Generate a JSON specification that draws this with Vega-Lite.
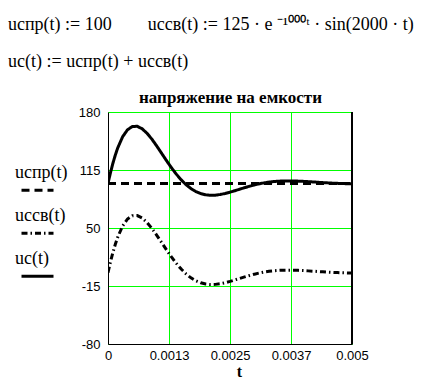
{
  "$schema": "https://vega.github.io/schema/vega-lite/v6.json",
  "width": 244,
  "height": 232,
  "autosize": "none",
  "padding": {"left": 108, "top": 112, "right": 88, "bottom": 42},
  "background": "white",
  "title": {
    "text": ["uспр(t) := 100\u00a0\u00a0\u00a0\u00a0\u00a0\u00a0\u00a0\u00a0uссв(t) := 125 · e\u00a0⁻¹⁰⁰⁰ᵗ · sin(2000 · t)", "uc(t) := uспр(t) + uссв(t)"],
    "anchor": "start",
    "frame": "group",
    "font": "Liberation Serif",
    "fontSize": 18,
    "fontWeight": "normal",
    "color": "black",
    "lineHeight": 37,
    "baseline": "alphabetic",
    "dx": -100,
    "offset": 3
  },
  "config": {
    "view": {"stroke": null},
    "axis": {
      "ticks": false,
      "grid": true,
      "gridColor": "#00ff00",
      "gridOpacity": 1,
      "gridWidth": 1,
      "domainColor": "black",
      "domainWidth": 1,
      "labelFont": "Liberation Sans",
      "labelFontSize": 13,
      "labelColor": "black"
    },
    "legend": {
      "orient": "none",
      "legendX": -88,
      "legendY": 48,
      "padding": 0,
      "symbolType": "M-1,0.8L1,0.8",
      "symbolSize": 1024,
      "symbolStrokeWidth": 3,
      "symbolStrokeColor": "black",
      "symbolFillColor": "transparent",
      "labelFont": "Liberation Serif",
      "labelFontSize": 18,
      "labelColor": "black",
      "labelOffset": -40,
      "labelBaseline": "alphabetic",
      "rowPadding": 6
    }
  },
  "data": {
    "values": [
      {"t": 0, "s": "spr", "v": 100},
      {"t": 0.005, "s": "spr", "v": 100},
      {"t": 0, "s": "ssv", "v": 0},
      {"t": 0.00005, "s": "ssv", "v": 11.87},
      {"t": 0.0001, "s": "ssv", "v": 22.47},
      {"t": 0.00015, "s": "ssv", "v": 31.79},
      {"t": 0.0002, "s": "ssv", "v": 39.85},
      {"t": 0.0003, "s": "ssv", "v": 52.29},
      {"t": 0.0004, "s": "ssv", "v": 60.11},
      {"t": 0.0005, "s": "ssv", "v": 63.8},
      {"t": 0.0006, "s": "ssv", "v": 63.94},
      {"t": 0.0007, "s": "ssv", "v": 61.17},
      {"t": 0.0008, "s": "ssv", "v": 56.14},
      {"t": 0.0009, "s": "ssv", "v": 49.49},
      {"t": 0.001, "s": "ssv", "v": 41.81},
      {"t": 0.0011, "s": "ssv", "v": 33.64},
      {"t": 0.0012, "s": "ssv", "v": 25.43},
      {"t": 0.0013, "s": "ssv", "v": 17.56},
      {"t": 0.0014, "s": "ssv", "v": 10.33},
      {"t": 0.0015, "s": "ssv", "v": 3.94},
      {"t": 0.0016, "s": "ssv", "v": -1.47},
      {"t": 0.0017, "s": "ssv", "v": -5.84},
      {"t": 0.0018, "s": "ssv", "v": -9.14},
      {"t": 0.0019, "s": "ssv", "v": -11.44},
      {"t": 0.002, "s": "ssv", "v": -12.8},
      {"t": 0.0021, "s": "ssv", "v": -13.34},
      {"t": 0.0022, "s": "ssv", "v": -13.18},
      {"t": 0.0023, "s": "ssv", "v": -12.45},
      {"t": 0.0024, "s": "ssv", "v": -11.3},
      {"t": 0.0025, "s": "ssv", "v": -9.84},
      {"t": 0.0026, "s": "ssv", "v": -8.2},
      {"t": 0.0027, "s": "ssv", "v": -6.49},
      {"t": 0.0028, "s": "ssv", "v": -4.8},
      {"t": 0.0029, "s": "ssv", "v": -3.2},
      {"t": 0.003, "s": "ssv", "v": -1.74},
      {"t": 0.0031, "s": "ssv", "v": -0.47},
      {"t": 0.0032, "s": "ssv", "v": 0.59},
      {"t": 0.0033, "s": "ssv", "v": 1.44},
      {"t": 0.0034, "s": "ssv", "v": 2.06},
      {"t": 0.0035, "s": "ssv", "v": 2.48},
      {"t": 0.0036, "s": "ssv", "v": 2.71},
      {"t": 0.0037, "s": "ssv", "v": 2.78},
      {"t": 0.0038, "s": "ssv", "v": 2.71},
      {"t": 0.0039, "s": "ssv", "v": 2.53},
      {"t": 0.004, "s": "ssv", "v": 2.27},
      {"t": 0.0041, "s": "ssv", "v": 1.95},
      {"t": 0.0042, "s": "ssv", "v": 1.6},
      {"t": 0.0043, "s": "ssv", "v": 1.25},
      {"t": 0.0044, "s": "ssv", "v": 0.9},
      {"t": 0.0045, "s": "ssv", "v": 0.57},
      {"t": 0.0046, "s": "ssv", "v": 0.28},
      {"t": 0.0047, "s": "ssv", "v": 0.03},
      {"t": 0.0048, "s": "ssv", "v": -0.18},
      {"t": 0.0049, "s": "ssv", "v": -0.34},
      {"t": 0.005, "s": "ssv", "v": -0.46},
      {"t": 0, "s": "c", "v": 100},
      {"t": 0.00005, "s": "c", "v": 111.87},
      {"t": 0.0001, "s": "c", "v": 122.47},
      {"t": 0.00015, "s": "c", "v": 131.79},
      {"t": 0.0002, "s": "c", "v": 139.85},
      {"t": 0.0003, "s": "c", "v": 152.29},
      {"t": 0.0004, "s": "c", "v": 160.11},
      {"t": 0.0005, "s": "c", "v": 163.8},
      {"t": 0.0006, "s": "c", "v": 163.94},
      {"t": 0.0007, "s": "c", "v": 161.17},
      {"t": 0.0008, "s": "c", "v": 156.14},
      {"t": 0.0009, "s": "c", "v": 149.49},
      {"t": 0.001, "s": "c", "v": 141.81},
      {"t": 0.0011, "s": "c", "v": 133.64},
      {"t": 0.0012, "s": "c", "v": 125.43},
      {"t": 0.0013, "s": "c", "v": 117.56},
      {"t": 0.0014, "s": "c", "v": 110.33},
      {"t": 0.0015, "s": "c", "v": 103.94},
      {"t": 0.0016, "s": "c", "v": 98.53},
      {"t": 0.0017, "s": "c", "v": 94.16},
      {"t": 0.0018, "s": "c", "v": 90.86},
      {"t": 0.0019, "s": "c", "v": 88.56},
      {"t": 0.002, "s": "c", "v": 87.2},
      {"t": 0.0021, "s": "c", "v": 86.66},
      {"t": 0.0022, "s": "c", "v": 86.82},
      {"t": 0.0023, "s": "c", "v": 87.55},
      {"t": 0.0024, "s": "c", "v": 88.7},
      {"t": 0.0025, "s": "c", "v": 90.16},
      {"t": 0.0026, "s": "c", "v": 91.8},
      {"t": 0.0027, "s": "c", "v": 93.51},
      {"t": 0.0028, "s": "c", "v": 95.2},
      {"t": 0.0029, "s": "c", "v": 96.8},
      {"t": 0.003, "s": "c", "v": 98.26},
      {"t": 0.0031, "s": "c", "v": 99.53},
      {"t": 0.0032, "s": "c", "v": 100.59},
      {"t": 0.0033, "s": "c", "v": 101.44},
      {"t": 0.0034, "s": "c", "v": 102.06},
      {"t": 0.0035, "s": "c", "v": 102.48},
      {"t": 0.0036, "s": "c", "v": 102.71},
      {"t": 0.0037, "s": "c", "v": 102.78},
      {"t": 0.0038, "s": "c", "v": 102.71},
      {"t": 0.0039, "s": "c", "v": 102.53},
      {"t": 0.004, "s": "c", "v": 102.27},
      {"t": 0.0041, "s": "c", "v": 101.95},
      {"t": 0.0042, "s": "c", "v": 101.6},
      {"t": 0.0043, "s": "c", "v": 101.25},
      {"t": 0.0044, "s": "c", "v": 100.9},
      {"t": 0.0045, "s": "c", "v": 100.57},
      {"t": 0.0046, "s": "c", "v": 100.28},
      {"t": 0.0047, "s": "c", "v": 100.03},
      {"t": 0.0048, "s": "c", "v": 99.82},
      {"t": 0.0049, "s": "c", "v": 99.66},
      {"t": 0.005, "s": "c", "v": 99.54}
    ]
  },
  "layer": [
    {
      "mark": {"type": "line", "color": "black", "strokeWidth": 3, "clip": true},
      "encoding": {
        "x": {
          "field": "t", "type": "quantitative",
          "scale": {"domain": [0, 0.005], "nice": false, "zero": false},
          "axis": {
            "orient": "bottom",
            "values": [0, 0.00125, 0.0025, 0.00375, 0.005],
            "labelExpr": "datum.value < 0.001 ? '0' : datum.value < 0.002 ? '0.0013' : datum.value < 0.003 ? '0.0025' : datum.value < 0.004 ? '0.0037' : '0.005'",
            "labelFlush": false,
            "labelPadding": 5,
            "labelDx": 2,
            "title": "t",
            "titleFont": "Liberation Serif",
            "titleFontSize": 16,
            "titleFontWeight": "bold",
            "titleColor": "black",
            "titleX": 131,
            "titleY": 32,
            "titleBaseline": "alphabetic"
          }
        },
        "y": {
          "field": "v", "type": "quantitative",
          "scale": {"domain": [-80, 180], "nice": false, "zero": false},
          "axis": {
            "values": [-80, -15, 50, 115, 180],
            "labelExpr": "'' + datum.value",
            "labelPadding": 8,
            "title": null
          }
        },
        "strokeDash": {
          "field": "s", "type": "nominal",
          "scale": {"domain": ["spr", "ssv", "c"], "range": [[8, 5], [6, 3, 1.5, 3], [1, 0]]},
          "legend": {
            "title": null,
            "labelExpr": "datum.value == 'spr' ? 'uспр(t)' : datum.value == 'ssv' ? 'uссв(t)' : 'uc(t)'"
          }
        }
      }
    },
    {
      "mark": {"type": "rule", "color": "black", "strokeWidth": 1},
      "encoding": {
        "x": {
          "datum": 0.005, "type": "quantitative",
          "axis": {
            "orient": "top",
            "labels": false,
            "ticks": false,
            "domain": false,
            "grid": false,
            "title": "напряжение на емкости",
            "titleFont": "Liberation Serif",
            "titleFontSize": 17,
            "titleFontWeight": "bold",
            "titleColor": "black",
            "titlePadding": 6
          }
        },
        "y": {"datum": -80, "type": "quantitative"},
        "y2": {"datum": 180}
      }
    }
  ]
}
